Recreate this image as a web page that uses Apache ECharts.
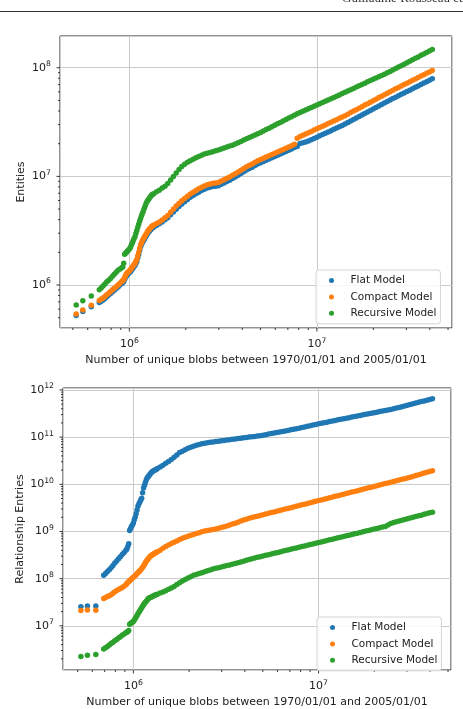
<!DOCTYPE html>
<html><head><meta charset="utf-8">
<script src="https://cdn.jsdelivr.net/npm/echarts@6/dist/echarts.min.js"></script>
<style>html,body{margin:0;padding:0;background:#fff}#c{width:463px;height:709px}</style>
</head><body><div id="c"></div>
<script>
// ---- data: number of unique blobs (shared x values) ----
const blobs = [5.21e5, 5.65e5, 6.27e5,
  6.918e5, 7.079e5, 7.244e5, 7.413e5, 7.586e5, 7.762e5, 7.943e5, 8.128e5, 8.318e5, 8.511e5, 8.710e5, 8.913e5, 9.120e5,
  9.226e5, 9.333e5, 9.441e5, 9.550e5, 9.661e5, 9.772e5, 9.886e5, 1.000e6,
  1.012e6, 1.023e6, 1.035e6, 1.047e6, 1.059e6, 1.072e6, 1.084e6, 1.096e6,
  1.109e6, 1.122e6, 1.135e6, 1.148e6, 1.161e6, 1.175e6, 1.189e6, 1.202e6,
  1.216e6, 1.230e6, 1.245e6, 1.259e6, 1.274e6, 1.288e6, 1.303e6, 1.318e6, 1.334e6,
  1.349e6, 1.396e6, 1.445e6, 1.496e6, 1.549e6, 1.603e6, 1.660e6, 1.718e6, 1.778e6, 1.841e6,
  1.905e6, 1.972e6, 2.042e6, 2.113e6, 2.188e6, 2.265e6, 2.344e6, 2.427e6, 2.512e6, 2.600e6,
  2.692e6, 2.786e6, 2.884e6, 2.985e6, 3.090e6, 3.199e6, 3.311e6, 3.428e6, 3.548e6, 3.673e6,
  3.802e6, 3.936e6, 4.074e6, 4.217e6, 4.365e6, 4.519e6, 4.677e6, 4.842e6, 5.012e6, 5.188e6,
  5.370e6, 5.559e6, 5.754e6, 5.957e6, 6.166e6, 6.383e6, 6.607e6, 6.839e6, 7.079e6, 7.328e6,
  7.586e6, 7.852e6, 8.128e6, 8.414e6, 8.710e6, 9.016e6, 9.333e6, 9.661e6, 1.000e7, 1.035e7,
  1.072e7, 1.109e7, 1.148e7, 1.189e7, 1.230e7, 1.274e7, 1.318e7, 1.365e7, 1.413e7, 1.462e7,
  1.514e7, 1.567e7, 1.622e7, 1.679e7, 1.738e7, 1.799e7, 1.862e7, 1.928e7, 1.995e7, 2.065e7,
  2.138e7, 2.213e7, 2.291e7, 2.371e7, 2.455e7, 2.541e7, 2.630e7, 2.723e7, 2.818e7, 2.917e7,
  3.020e7, 3.126e7, 3.236e7, 3.350e7, 3.467e7, 3.589e7, 3.715e7, 3.846e7, 3.981e7, 4.121e7];

// ---- Entities (top chart) ----
const entFlat = [5.24e5, 5.70e5, 6.30e5,
  6.90e5, 7.08e5, 7.28e5, 7.53e5, 7.80e5, 8.07e5, 8.36e5, 8.65e5, 8.95e5, 9.27e5, 9.59e5, 9.98e5, 1.035e6,
  1.057e6, 1.076e6, 1.127e6, 1.180e6, 1.216e6, 1.250e6, 1.274e6, 1.294e6,
  1.324e6, 1.355e6, 1.396e6, 1.435e6, 1.479e6, 1.521e6, 1.585e6, 1.648e6,
  1.778e6, 1.914e6, 2.075e6, 2.249e6, 2.355e6, 2.466e6, 2.553e6, 2.642e6,
  2.735e6, 2.831e6, 2.931e6, 3.034e6, 3.105e6, 3.177e6, 3.251e6, 3.327e6, 3.373e6,
  3.428e6, 3.532e6, 3.656e6, 3.811e6, 3.981e6, 4.159e6, 4.426e6, 4.699e6, 4.977e6, 5.284e6,
  5.559e6, 5.848e6, 6.124e6, 6.412e6, 6.653e6, 6.918e6, 7.161e6, 7.396e6, 7.621e6, 7.798e6,
  7.943e6, 8.054e6, 8.091e6, 8.204e6, 8.453e6, 8.690e6, 8.954e6, 9.226e6, 9.550e6, 9.886e6,
  1.023e7, 1.062e7, 1.104e7, 1.146e7, 1.180e7, 1.216e7, 1.259e7, 1.303e7, 1.334e7, 1.371e7,
  1.406e7, 1.445e7, 1.483e7, 1.524e7, 1.563e7, 1.607e7, 1.648e7, 1.694e7, 1.738e7, 1.791e7,
  1.841e7, 1.884e7, 2.009e7, 2.042e7, 2.070e7, 2.113e7, 2.173e7, 2.234e7, 2.296e7, 2.360e7,
  2.427e7, 2.495e7, 2.564e7, 2.636e7, 2.710e7, 2.786e7, 2.864e7, 2.944e7, 3.034e7, 3.133e7,
  3.236e7, 3.342e7, 3.443e7, 3.556e7, 3.673e7, 3.793e7, 3.908e7, 4.036e7, 4.169e7, 4.305e7,
  4.446e7, 4.581e7, 4.732e7, 4.887e7, 5.047e7, 5.200e7, 5.358e7, 5.521e7, 5.689e7, 5.861e7,
  6.039e7, 6.223e7, 6.412e7, 6.607e7, 6.808e7, 7.015e7, 7.228e7, 7.447e7, 7.674e7, 7.907e7];

const entCompact = [5.42e5, 5.90e5, 6.52e5,
  7.19e5, 7.38e5, 7.59e5, 7.85e5, 8.13e5, 8.41e5, 8.71e5, 9.02e5, 9.33e5, 9.66e5, 1.000e6, 1.040e6, 1.079e6,
  1.102e6, 1.122e6, 1.175e6, 1.230e6, 1.268e6, 1.303e6, 1.327e6, 1.349e6,
  1.380e6, 1.413e6, 1.455e6, 1.496e6, 1.542e6, 1.585e6, 1.652e6, 1.718e6,
  1.854e6, 1.995e6, 2.163e6, 2.344e6, 2.455e6, 2.570e6, 2.661e6, 2.754e6,
  2.851e6, 2.951e6, 3.055e6, 3.162e6, 3.236e6, 3.311e6, 3.388e6, 3.467e6, 3.516e6,
  3.573e6, 3.681e6, 3.811e6, 3.972e6, 4.150e6, 4.365e6, 4.677e6, 5.000e6, 5.333e6, 5.662e6,
  5.957e6, 6.266e6, 6.561e6, 6.871e6, 7.129e6, 7.413e6, 7.674e6, 7.925e6, 8.166e6, 8.356e6,
  8.511e6, 8.630e6, 8.670e6, 8.790e6, 9.057e6, 9.311e6, 9.594e6, 9.886e6, 1.023e7, 1.059e7,
  1.096e7, 1.138e7, 1.183e7, 1.227e7, 1.265e7, 1.303e7, 1.349e7, 1.396e7, 1.429e7, 1.469e7,
  1.507e7, 1.549e7, 1.589e7, 1.633e7, 1.675e7, 1.722e7, 1.766e7, 1.816e7, 1.862e7, 1.919e7,
  1.972e7, 2.239e7, 2.333e7, 2.388e7, 2.455e7, 2.523e7, 2.594e7, 2.667e7, 2.742e7, 2.818e7,
  2.897e7, 2.979e7, 3.062e7, 3.148e7, 3.236e7, 3.327e7, 3.420e7, 3.516e7, 3.622e7, 3.741e7,
  3.864e7, 3.990e7, 4.111e7, 4.246e7, 4.385e7, 4.529e7, 4.667e7, 4.819e7, 4.977e7, 5.140e7,
  5.309e7, 5.470e7, 5.649e7, 5.834e7, 6.026e7, 6.209e7, 6.397e7, 6.592e7, 6.792e7, 6.998e7,
  7.211e7, 7.430e7, 7.656e7, 7.889e7, 8.128e7, 8.375e7, 8.630e7, 8.892e7, 9.162e7, 9.441e7];

const entRecursive = [6.56e5, 7.18e5, 7.94e5,
  9.02e5, 9.38e5, 9.77e5, 1.023e6, 1.072e6, 1.109e6, 1.148e6, 1.202e6, 1.259e6, 1.312e6, 1.365e6, 1.406e6, 1.445e6,
  1.462e6, 1.585e6, 1.919e6, 1.959e6, 2.004e6, 2.051e6, 2.094e6, 2.143e6,
  2.203e6, 2.312e6, 2.421e6, 2.541e6, 2.661e6, 2.786e6, 2.979e6, 3.177e6,
  3.396e6, 3.622e6, 3.873e6, 4.102e6, 4.335e6, 4.571e6, 4.819e6, 5.082e6,
  5.370e6, 5.662e6, 5.916e6, 6.067e6, 6.237e6, 6.412e6, 6.577e6, 6.761e6, 6.855e6,
  6.93e6, 7.21e6, 7.46e6, 7.82e6, 8.13e6, 8.59e6, 9.25e6, 9.98e6, 1.076e7, 1.159e7,
  1.230e7, 1.291e7, 1.352e7, 1.396e7, 1.439e7, 1.486e7, 1.528e7, 1.563e7, 1.603e7, 1.637e7,
  1.660e7, 1.683e7, 1.718e7, 1.750e7, 1.786e7, 1.824e7, 1.862e7, 1.901e7, 1.936e7, 1.986e7,
  2.042e7, 2.099e7, 2.158e7, 2.218e7, 2.280e7, 2.344e7, 2.404e7, 2.466e7, 2.535e7, 2.618e7,
  2.698e7, 2.780e7, 2.864e7, 2.951e7, 3.048e7, 3.141e7, 3.236e7, 3.334e7, 3.443e7, 3.548e7,
  3.656e7, 3.767e7, 3.873e7, 3.981e7, 4.093e7, 4.198e7, 4.315e7, 4.426e7, 4.550e7, 4.667e7,
  4.797e7, 4.920e7, 5.058e7, 5.188e7, 5.333e7, 5.470e7, 5.623e7, 5.781e7, 5.943e7, 6.109e7,
  6.281e7, 6.457e7, 6.637e7, 6.823e7, 7.015e7, 7.211e7, 7.413e7, 7.621e7, 7.816e7, 8.035e7,
  8.260e7, 8.492e7, 8.730e7, 8.974e7, 9.247e7, 9.528e7, 9.840e7, 1.014e8, 1.045e8, 1.079e8,
  1.112e8, 1.148e8, 1.183e8, 1.222e8, 1.259e8, 1.300e8, 1.340e8, 1.380e8, 1.426e8, 1.469e8];

// ---- Relationship entries (bottom chart) ----
const relFlat = [2.55e7, 2.64e7, 2.64e7,
  1.189e8, 1.294e8, 1.413e8, 1.549e8, 1.698e8, 1.905e8, 2.138e8, 2.371e8, 2.630e8, 2.917e8, 3.236e8, 3.606e8, 4.027e8,
  4.266e8, 4.786e8, 5.495e8, 1.047e9, 1.159e9, 1.274e9, 1.377e9, 1.514e9,
  1.770e9, 1.995e9, 2.388e9, 2.851e9, 3.412e9, 3.864e9, 4.227e9, 4.624e9,
  5.058e9, 6.607e9, 8.395e9, 9.594e9, 1.096e10, 1.253e10, 1.371e10, 1.452e10,
  1.542e10, 1.637e10, 1.738e10, 1.832e10, 1.884e10, 1.932e10, 1.986e10, 2.037e10, 2.094e10,
  2.153e10, 2.333e10, 2.547e10, 2.780e10, 3.041e10, 3.357e10, 3.750e10, 4.198e10, 4.699e10, 5.047e10,
  5.395e10, 5.781e10, 6.138e10, 6.412e10, 6.699e10, 6.998e10, 7.228e10, 7.430e10, 7.621e10, 7.762e10,
  7.925e10, 8.072e10, 8.204e10, 8.356e10, 8.511e10, 8.650e10, 8.810e10, 8.974e10, 9.141e10, 9.311e10,
  9.484e10, 9.660e10, 9.863e10, 1.002e11, 1.019e11, 1.035e11, 1.052e11, 1.072e11, 1.099e11, 1.127e11,
  1.159e11, 1.189e11, 1.219e11, 1.253e11, 1.285e11, 1.318e11, 1.352e11, 1.387e11, 1.426e11, 1.462e11,
  1.507e11, 1.552e11, 1.600e11, 1.648e11, 1.698e11, 1.750e11, 1.803e11, 1.858e11, 1.914e11, 1.972e11,
  2.028e11, 2.080e11, 2.138e11, 2.198e11, 2.259e11, 2.323e11, 2.388e11, 2.449e11, 2.518e11, 2.588e11,
  2.661e11, 2.735e11, 2.805e11, 2.884e11, 2.965e11, 3.041e11, 3.126e11, 3.214e11, 3.296e11, 3.388e11,
  3.483e11, 3.573e11, 3.673e11, 3.776e11, 3.873e11, 3.981e11, 4.121e11, 4.266e11, 4.416e11, 4.571e11,
  4.742e11, 4.909e11, 5.093e11, 5.272e11, 5.470e11, 5.662e11, 5.861e11, 6.081e11, 6.295e11, 6.531e11];

const relCompact = [2.11e7, 2.18e7, 2.14e7,
  3.82e7, 3.98e7, 4.17e7, 4.37e7, 4.57e7, 4.93e7, 5.31e7, 5.60e7, 5.89e7, 6.21e7, 6.53e7, 6.89e7, 7.46e7,
  7.89e7, 8.32e7, 8.67e7, 9.02e7, 9.44e7, 9.89e7, 1.030e8, 1.072e8,
  1.109e8, 1.148e8, 1.216e8, 1.288e8, 1.343e8, 1.396e8, 1.472e8, 1.549e8,
  1.641e8, 1.738e8, 1.862e8, 1.995e8, 2.163e8, 2.344e8, 2.483e8, 2.630e8,
  2.786e8, 2.951e8, 3.055e8, 3.162e8, 3.258e8, 3.350e8, 3.451e8, 3.548e8, 3.631e8,
  3.715e8, 3.981e8, 4.395e8, 4.819e8, 5.164e8, 5.546e8, 5.916e8, 6.310e8, 6.761e8, 7.211e8,
  7.586e8, 7.962e8, 8.318e8, 8.670e8, 9.057e8, 9.462e8, 9.886e8, 1.028e9, 1.054e9, 1.079e9,
  1.104e9, 1.130e9, 1.175e9, 1.216e9, 1.259e9, 1.309e9, 1.371e9, 1.435e9, 1.503e9, 1.574e9,
  1.660e9, 1.746e9, 1.828e9, 1.905e9, 1.972e9, 2.042e9, 2.113e9, 2.188e9, 2.265e9, 2.344e9,
  2.427e9, 2.512e9, 2.600e9, 2.692e9, 2.786e9, 2.884e9, 2.985e9, 3.090e9, 3.199e9, 3.311e9,
  3.428e9, 3.548e9, 3.673e9, 3.802e9, 3.936e9, 4.074e9, 4.217e9, 4.365e9, 4.519e9, 4.677e9,
  4.842e9, 5.012e9, 5.188e9, 5.370e9, 5.559e9, 5.754e9, 5.957e9, 6.166e9, 6.383e9, 6.607e9,
  6.839e9, 7.079e9, 7.328e9, 7.586e9, 7.852e9, 8.128e9, 8.414e9, 8.710e9, 9.016e9, 9.333e9,
  9.661e9, 1.000e10, 1.035e10, 1.072e10, 1.109e10, 1.148e10, 1.189e10, 1.230e10, 1.274e10, 1.318e10,
  1.365e10, 1.413e10, 1.472e10, 1.535e10, 1.596e10, 1.660e10, 1.730e10, 1.799e10, 1.871e10, 1.950e10];

const relRecursive = [2.23e6, 2.39e6, 2.46e6,
  3.24e6, 3.45e6, 3.67e6, 3.94e6, 4.22e6, 4.52e6, 4.84e6, 5.16e6, 5.50e6, 5.89e6, 6.31e6, 6.71e6, 7.13e6,
  7.36e6, 7.59e6, 7.94e6, 1.081e7, 1.127e7, 1.159e7, 1.199e7, 1.242e7,
  1.337e7, 1.435e7, 1.545e7, 1.667e7, 1.795e7, 1.936e7, 2.084e7, 2.249e7,
  2.421e7, 2.612e7, 2.805e7, 2.972e7, 3.155e7, 3.342e7, 3.540e7, 3.758e7,
  3.873e7, 3.963e7, 4.055e7, 4.140e7, 4.236e7, 4.335e7, 4.436e7, 4.529e7, 4.613e7,
  4.688e7, 4.943e7, 5.212e7, 5.572e7, 5.957e7, 6.368e7, 6.839e7, 7.482e7, 8.166e7, 8.933e7,
  9.616e7, 1.028e8, 1.102e8, 1.175e8, 1.227e8, 1.282e8, 1.343e8, 1.403e8, 1.466e8, 1.531e8,
  1.600e8, 1.660e8, 1.714e8, 1.770e8, 1.832e8, 1.892e8, 1.959e8, 2.023e8, 2.089e8, 2.163e8,
  2.244e8, 2.350e8, 2.455e8, 2.559e8, 2.655e8, 2.742e8, 2.831e8, 2.924e8, 3.027e8, 3.126e8,
  3.228e8, 3.334e8, 3.451e8, 3.565e8, 3.681e8, 3.802e8, 3.936e8, 4.064e8, 4.198e8, 4.335e8,
  4.487e8, 4.634e8, 4.786e8, 4.943e8, 5.117e8, 5.284e8, 5.458e8, 5.636e8, 5.834e8, 6.026e8,
  6.223e8, 6.427e8, 6.653e8, 6.871e8, 7.096e8, 7.328e8, 7.586e8, 7.834e8, 8.091e8, 8.356e8,
  8.650e8, 8.933e8, 9.226e8, 9.528e8, 9.863e8, 1.019e9, 1.052e9, 1.086e9, 1.125e9, 1.161e9,
  1.199e9, 1.239e9, 1.282e9, 1.380e9, 1.486e9, 1.549e9, 1.607e9, 1.663e9, 1.726e9, 1.791e9,
  1.858e9, 1.923e9, 1.995e9, 2.070e9, 2.148e9, 2.223e9, 2.307e9, 2.393e9, 2.483e9, 2.570e9];

const seriesNames = ['Flat Model', 'Compact Model', 'Recursive Model'];
const xTitle = 'Number of unique blobs between 1970/01/01 and 2005/01/01';
const topYTitle = 'Entities';
const botYTitle = 'Relationship Entries';
const headerText = 'Guillaume Rousseau et al.';

// tick values
const xMajorTicks = [1e6, 1e7];
const xMinorTicks = [5e5, 6e5, 7e5, 8e5, 9e5, 2e6, 3e6, 4e6, 5e6, 6e6, 7e6, 8e6, 9e6, 2e7, 3e7, 4e7, 5e7];
const entMajorTicks = [1e6, 1e7, 1e8];
const entMinorTicks = [5e5, 6e5, 7e5, 8e5, 9e5, 2e6, 3e6, 4e6, 5e6, 6e6, 7e6, 8e6, 9e6,
  2e7, 3e7, 4e7, 5e7, 6e7, 7e7, 8e7, 9e7];
const relMajorTicks = [1e7, 1e8, 1e9, 1e10, 1e11, 1e12];
const relMinorTicks = [2e6, 3e6, 4e6, 5e6, 6e6, 7e6, 8e6, 9e6,
  2e7, 3e7, 4e7, 5e7, 6e7, 7e7, 8e7, 9e7,
  2e8, 3e8, 4e8, 5e8, 6e8, 7e8, 8e8, 9e8,
  2e9, 3e9, 4e9, 5e9, 6e9, 7e9, 8e9, 9e9,
  2e10, 3e10, 4e10, 5e10, 6e10, 7e10, 8e10, 9e10,
  2e11, 3e11, 4e11, 5e11, 6e11, 7e11, 8e11, 9e11];

// axis ranges
const topXRange = [4.27e5, 5.25e7];
const entRange = [4.02e5, 1.96e8];
const botXRange = [4.17e5, 5.19e7];
const relRange = [1.16e6, 1.10e12];

const colors = ['#1f77b4', '#ff7f0e', '#2ca02c'];
const FONT = 'DejaVu Sans';
const TXT = '#222';

function pow10Label(v) {
  const e = Math.log10(v);
  const r = Math.round(e);
  if (Math.abs(e - r) > 1e-6) return '';
  return '10{s|' + r + '}';
}
const labelStyle = {
  formatter: pow10Label, fontSize: 11, color: TXT, fontFamily: FONT,
  rich: { s: { fontSize: 7.7, fontFamily: FONT, color: TXT, padding: [0, 0, 7, 0] } }
};

function logAxis(gi, range, name, gap, margin) {
  return {
    type: 'log', gridIndex: gi, min: range[0], max: range[1],
    axisLine: { show: false }, axisTick: { show: false },
    splitLine: { show: true, lineStyle: { color: '#cbcbcb', width: 1 } },
    axisLabel: Object.assign({ margin: margin }, labelStyle),
    name: name, nameLocation: 'middle', nameGap: gap, nameMoveOverlap: false,
    nameTextStyle: { fontSize: 11, color: TXT, fontFamily: FONT }
  };
}

function tickMarks(gi, axis, values, len, other) {
  return {
    type: 'custom', name: 'ticks', xAxisIndex: gi, yAxisIndex: gi, silent: true, clip: false, z: 3,
    data: values.map(v => axis === 'x' ? [v, other] : [other, v]),
    renderItem: function (params, api) {
      const p = api.coord([api.value(0), api.value(1)]);
      const shape = axis === 'x'
        ? { x1: p[0], y1: p[1], x2: p[0], y2: p[1] + len }
        : { x1: p[0], y1: p[1], x2: p[0] - len, y2: p[1] };
      return { type: 'line', shape: shape, style: { stroke: TXT, lineWidth: 0.9 } };
    }
  };
}

function scatter(gi, name, ys, color) {
  return {
    type: 'scatter', name: name, xAxisIndex: gi, yAxisIndex: gi,
    data: blobs.map((x, i) => [x, ys[i]]),
    symbol: 'circle', symbolSize: 5.5, itemStyle: { color: color, opacity: 1 },
    silent: true
  };
}

function legend(left, top) {
  return {
    data: seriesNames, orient: 'vertical', left: left, top: top,
    icon: 'circle', itemWidth: 28, itemHeight: 5, itemGap: 5.4,
    padding: [5, 4, 5, 13], backgroundColor: 'rgba(255,255,255,0.85)',
    borderColor: '#d5d5d5', borderWidth: 1, borderRadius: 3, selectedMode: false,
    textStyle: { fontSize: 10.5, color: TXT, fontFamily: FONT }
  };
}

const chart = echarts.init(document.getElementById('c'), null, { renderer: 'canvas' });
chart.setOption({
  animation: false,
  backgroundColor: '#fff',
  grid: [
    { left: 60, top: 36, width: 392, height: 292, show: true, borderColor: TXT, borderWidth: 1, backgroundColor: 'transparent' },
    { left: 63, top: 388, width: 388, height: 286, show: true, borderColor: TXT, borderWidth: 1, backgroundColor: 'transparent' }
  ],
  xAxis: [
    logAxis(0, topXRange, xTitle, 27, 9),
    logAxis(1, botXRange, xTitle, 27, 9)
  ],
  yAxis: [
    logAxis(0, entRange, topYTitle, 33, 9),
    logAxis(1, relRange, botYTitle, 37, 9)
  ],
  legend: [legend(316, 270), legend(317, 617)],
  graphic: [
    { type: 'line', shape: { x1: 0, y1: 11.5, x2: 463, y2: 11.5 }, style: { stroke: '#333', lineWidth: 1 } },
    { type: 'text', x: 342, y: 5.5, style: { text: headerText, fontSize: 13, fontFamily: 'Liberation Serif', fill: '#333', verticalAlign: 'bottom' } }
  ],
  series: [
    scatter(0, seriesNames[0], entFlat, colors[0]),
    scatter(0, seriesNames[1], entCompact, colors[1]),
    scatter(0, seriesNames[2], entRecursive, colors[2]),
    scatter(1, seriesNames[0], relFlat, colors[0]),
    scatter(1, seriesNames[1], relCompact, colors[1]),
    scatter(1, seriesNames[2], relRecursive, colors[2]),
    tickMarks(0, 'x', xMajorTicks, 3.5, entRange[0]),
    tickMarks(0, 'x', xMinorTicks, 2, entRange[0]),
    tickMarks(0, 'y', entMajorTicks, 3.5, topXRange[0]),
    tickMarks(0, 'y', entMinorTicks, 2, topXRange[0]),
    tickMarks(1, 'x', xMajorTicks, 3.5, relRange[0]),
    tickMarks(1, 'x', xMinorTicks, 2, relRange[0]),
    tickMarks(1, 'y', relMajorTicks, 3.5, botXRange[0]),
    tickMarks(1, 'y', relMinorTicks, 2, botXRange[0])
  ]
});
</script>
</body></html>
